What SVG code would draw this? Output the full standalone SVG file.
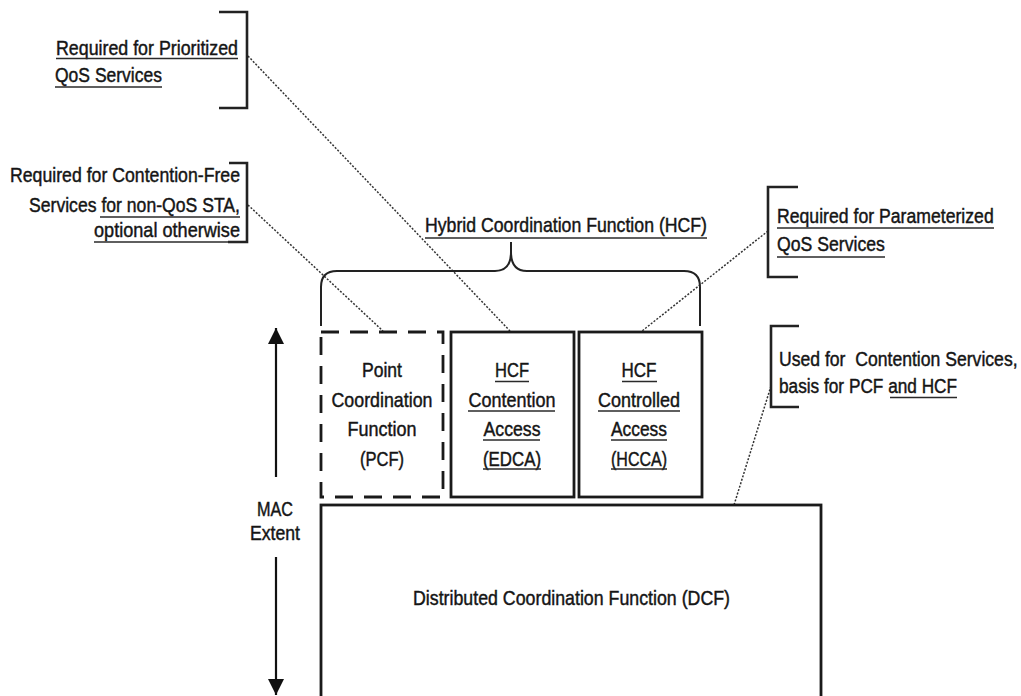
<svg xmlns="http://www.w3.org/2000/svg" width="1021" height="696" viewBox="0 0 1021 696">
<style>
.t{font-family:"Liberation Sans Narrow","Liberation Sans",Arial,sans-serif;font-size:21px;fill:#151515;stroke:#151515;stroke-width:0.45}
.m{text-anchor:middle}
.u{stroke:#2a2a2a;stroke-width:1.7;fill:none}
.br{stroke:#222;stroke-width:2.6;fill:none}
.box{stroke:#1a1a1a;stroke-width:2.8;fill:#fff}
.dash{stroke-dasharray:18 11}
.conn{stroke:#333;stroke-width:1.5;fill:none;stroke-dasharray:2 1.6}
.ax{stroke:#111;stroke-width:2.2;fill:none}
</style>
<defs>
<marker id="ah" viewBox="0 0 16 22" refX="16" refY="11" markerWidth="16" markerHeight="22" markerUnits="userSpaceOnUse" orient="auto">
<path d="M0,3 L16,11 L0,19 Z" fill="#111"/>
</marker>
</defs>
<rect width="1021" height="696" fill="#fff"/>

<g id="connectors">
<line class="conn" x1="248" y1="56" x2="510" y2="331"/>
<line class="conn" x1="248" y1="205" x2="383" y2="331"/>
<line class="conn" x1="768" y1="231" x2="642" y2="331"/>
<line class="conn" x1="771" y1="386" x2="734" y2="505"/>
</g>

<g id="note-prioritized">
<path class="br" d="M219,12 H247 V108 H219"/>
<text class="t" x="56" y="55" textLength="182" lengthAdjust="spacingAndGlyphs">Required for Prioritized</text>
<line class="u" x1="56" y1="58.5" x2="238" y2="58.5"/>
<text class="t" x="55" y="82" textLength="107" lengthAdjust="spacingAndGlyphs">QoS Services</text>
<line class="u" x1="55" y1="87" x2="162" y2="87"/>
</g>

<g id="note-contention-free">
<path class="br" d="M229,163 H247 V242 H228"/>
<text class="t" x="10" y="182" textLength="230" lengthAdjust="spacingAndGlyphs">Required for Contention-Free</text>
<text class="t" x="29" y="212" textLength="211" lengthAdjust="spacingAndGlyphs">Services for non-QoS STA,</text>
<line class="u" x1="100" y1="217" x2="240" y2="217"/>
<text class="t" x="94" y="237" textLength="146" lengthAdjust="spacingAndGlyphs">optional otherwise</text>
<line class="u" x1="94" y1="242" x2="240" y2="242"/>
</g>

<g id="hcf">
<text class="t" x="425" y="232" textLength="282" lengthAdjust="spacingAndGlyphs">Hybrid Coordination Function (HCF)</text>
<line class="u" x1="425" y1="238" x2="707" y2="238"/>
<path stroke="#222" stroke-width="2" fill="none" d="M321,326 V287 Q321,271 337,271 H495 Q511,271 511,252 V242 M511,252 Q511,271 527,271 H684 Q700,271 700,287 V326"/>
</g>

<g id="note-parameterized">
<path class="br" d="M798,187 H768 V277 H798"/>
<g transform="translate(777,0) scale(0.84,1)">
<text class="t" x="0" y="223" textLength="258" lengthAdjust="spacingAndGlyphs">Required for Parameterized</text>
<text class="t" x="0" y="251" textLength="128.5" lengthAdjust="spacingAndGlyphs">QoS Services</text>
</g>
<line class="u" x1="777" y1="228" x2="994" y2="228"/>
<line class="u" x1="777" y1="257" x2="885" y2="257"/>
</g>

<g id="note-dcf">
<path class="br" d="M799,326 H771 V407 H799"/>
<g transform="translate(779,0) scale(0.84,1)">
<text class="t" x="0" y="366" textLength="284" lengthAdjust="spacingAndGlyphs" xml:space="preserve">Used for  Contention Services,</text>
<text class="t" x="0" y="393" textLength="212" lengthAdjust="spacingAndGlyphs">basis for PCF and HCF</text>
</g>
<line class="u" x1="890" y1="397.5" x2="957" y2="397.5"/>
</g>

<g id="pcf">
<rect class="box dash" x="321" y="332" width="122" height="165" fill="none"/>
<text class="t m" x="382" y="377" textLength="40" lengthAdjust="spacingAndGlyphs">Point</text>
<text class="t m" x="382" y="407" textLength="101" lengthAdjust="spacingAndGlyphs">Coordination</text>
<text class="t m" x="382" y="436" textLength="69" lengthAdjust="spacingAndGlyphs">Function</text>
<text class="t m" x="382" y="466" textLength="44" lengthAdjust="spacingAndGlyphs">(PCF)</text>
</g>

<g id="edca">
<rect class="box" x="451" y="332" width="123" height="165"/>
<text class="t m" x="512" y="377" textLength="34" lengthAdjust="spacingAndGlyphs">HCF</text>
<line class="u" x1="495" y1="381.5" x2="529" y2="381.5"/>
<text class="t m" x="512" y="407" textLength="87" lengthAdjust="spacingAndGlyphs">Contention</text>
<line class="u" x1="468" y1="411" x2="555" y2="411"/>
<text class="t m" x="512" y="436" textLength="57" lengthAdjust="spacingAndGlyphs">Access</text>
<line class="u" x1="483" y1="440" x2="540" y2="440"/>
<text class="t m" x="512" y="466" textLength="58" lengthAdjust="spacingAndGlyphs">(EDCA)</text>
<line class="u" x1="483" y1="469" x2="541" y2="469"/>
</g>

<g id="hcca">
<rect class="box" x="579" y="332" width="123" height="165"/>
<text class="t m" x="639" y="377" textLength="35" lengthAdjust="spacingAndGlyphs">HCF</text>
<line class="u" x1="622" y1="381.5" x2="657" y2="381.5"/>
<text class="t m" x="639" y="407" textLength="82" lengthAdjust="spacingAndGlyphs">Controlled</text>
<line class="u" x1="598" y1="411" x2="680" y2="411"/>
<text class="t m" x="639" y="436" textLength="56" lengthAdjust="spacingAndGlyphs">Access</text>
<line class="u" x1="611" y1="440" x2="667" y2="440"/>
<text class="t m" x="639" y="466" textLength="56" lengthAdjust="spacingAndGlyphs">(HCCA)</text>
<line class="u" x1="611" y1="469" x2="667" y2="469"/>
</g>

<g id="dcf">
<rect class="box" x="321" y="505" width="500" height="200"/>
<text class="t" x="413" y="605" textLength="317" lengthAdjust="spacingAndGlyphs">Distributed Coordination Function (DCF)</text>
</g>

<g id="mac-extent">
<line class="ax" x1="276" y1="477" x2="276" y2="328" marker-end="url(#ah)"/>
<text class="t m" x="275" y="516" textLength="36" lengthAdjust="spacingAndGlyphs">MAC</text>
<text class="t m" x="275" y="540" textLength="50" lengthAdjust="spacingAndGlyphs">Extent</text>
<line class="ax" x1="276" y1="557" x2="276" y2="695" marker-end="url(#ah)"/>
</g>
</svg>
